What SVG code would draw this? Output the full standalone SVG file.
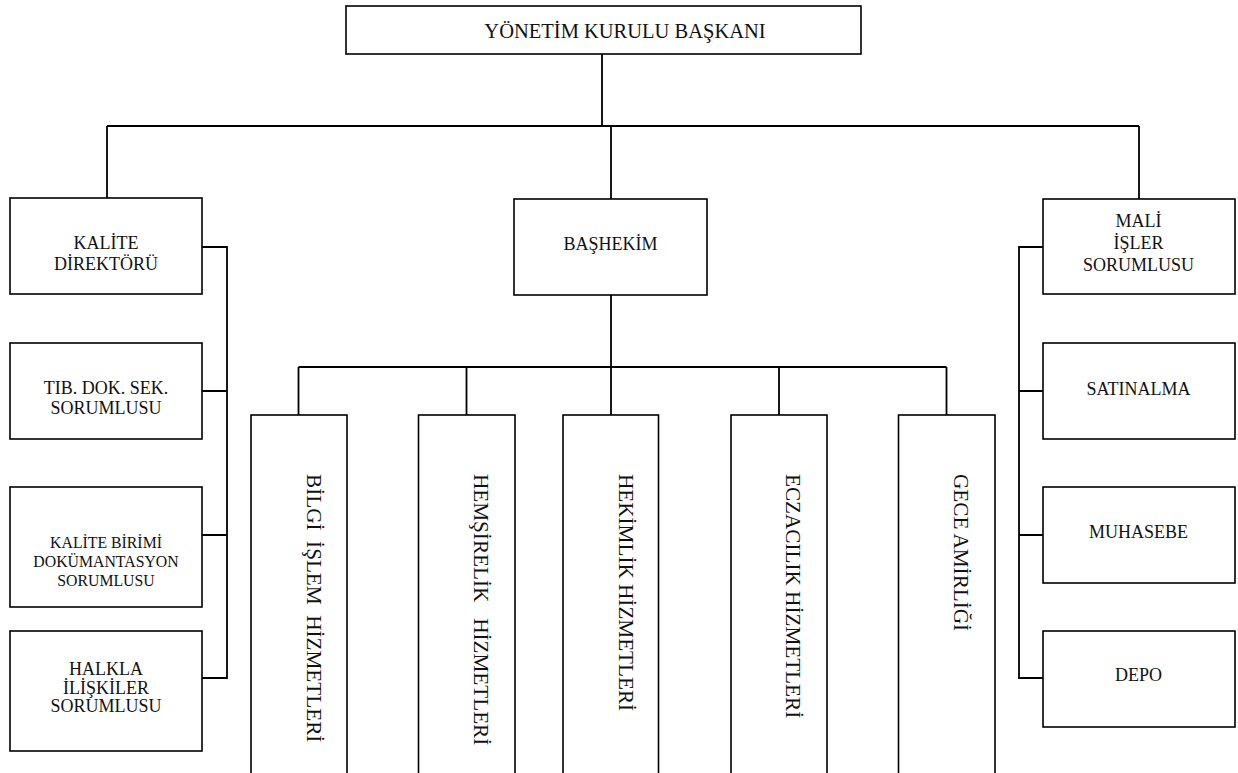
<svg xmlns="http://www.w3.org/2000/svg" width="1238" height="773" viewBox="0 0 1238 773">
  <style>
    .box { fill: #ffffff; stroke: #000000; stroke-width: 1.6; }
    .wire { fill: none; stroke: #000000; stroke-width: 1.8; }
    text { font-family: "Liberation Serif", "Times New Roman", serif; fill: #111111; }
    .lbl { font-size: 18px; text-anchor: middle; }
    .sm { font-size: 15.8px; text-anchor: middle; }
    .vt { font-size: 21.2px; white-space: pre; }
  </style>
  <rect width="1238" height="773" fill="#ffffff"/>

  <!-- connectors -->
  <g id="connectors" class="wire">
    <!-- top level -->
    <path d="M602 54 V126 M107 126 H1139 M107 126 V198 M611 126 V199 M1139 126 V199"/>
    <!-- quality branch (left) -->
    <path d="M202 247 H227 V678 H202 M202 391 H227 M202 535 H227"/>
    <!-- finance branch (right) -->
    <path d="M1043 247 H1019 V678 H1043 M1019 391 H1043 M1019 535 H1043"/>
    <!-- chief physician branch -->
    <path d="M611 295 V367 M298.5 367 H946.5 M298.5 367 V415 M466.5 367 V415 M611 367 V415 M779 367 V415 M946.5 367 V415"/>
  </g>

  <g id="n-baskan">
    <rect class="box" x="346" y="6" width="515" height="48"/>
    <text x="625" y="38" style="font-size:20.5px;text-anchor:middle">YÖNETİM KURULU BAŞKANI</text>
  </g>

  <g id="n-kalite-direktoru">
    <rect class="box" x="10" y="198" width="192" height="96"/>
    <text class="lbl" x="106" y="249">KALİTE</text>
    <text class="lbl" x="106" y="270">DİREKTÖRÜ</text>
  </g>

  <g id="n-tib-dok">
    <rect class="box" x="10" y="343" width="192" height="96"/>
    <text class="lbl" x="106" y="393.5">TIB. DOK. SEK.</text>
    <text class="lbl" x="106" y="414">SORUMLUSU</text>
  </g>

  <g id="n-kalite-birimi">
    <rect class="box" x="10" y="487" width="192" height="120"/>
    <text class="sm" x="106" y="548">KALİTE BİRİMİ</text>
    <text class="sm" x="106" y="567">DOKÜMANTASYON</text>
    <text class="sm" x="106" y="585.5">SORUMLUSU</text>
  </g>

  <g id="n-halkla">
    <rect class="box" x="10" y="631" width="192" height="120"/>
    <text class="lbl" x="106" y="675">HALKLA</text>
    <text class="lbl" x="106" y="693.5">İLİŞKİLER</text>
    <text class="lbl" x="106" y="712">SORUMLUSU</text>
  </g>

  <g id="n-bashekim">
    <rect class="box" x="514" y="199" width="193" height="96"/>
    <text class="lbl" x="610.5" y="249.5">BAŞHEKİM</text>
  </g>

  <g id="n-mali">
    <rect class="box" x="1043" y="199" width="192" height="95"/>
    <text class="lbl" x="1138.5" y="227">MALİ</text>
    <text class="lbl" x="1138.5" y="248.5">İŞLER</text>
    <text class="lbl" x="1138.5" y="270.5">SORUMLUSU</text>
  </g>

  <g id="n-satinalma">
    <rect class="box" x="1043" y="343" width="192" height="96"/>
    <text class="lbl" x="1138.5" y="394.5">SATINALMA</text>
  </g>

  <g id="n-muhasebe">
    <rect class="box" x="1043" y="487" width="192" height="96"/>
    <text class="lbl" x="1138.5" y="537.5">MUHASEBE</text>
  </g>

  <g id="n-depo">
    <rect class="box" x="1043" y="631" width="192" height="96"/>
    <text class="lbl" x="1138.5" y="681">DEPO</text>
  </g>

  <!-- tall service columns, running off the bottom edge -->
  <g id="n-bilgi-islem">
    <rect class="box" x="251" y="415" width="96" height="380"/>
    <text class="vt" xml:space="preserve" transform="translate(306.5 474) rotate(90)">BİLGİ  İŞLEM  HİZMETLERİ</text>
  </g>

  <g id="n-hemsirelik">
    <rect class="box" x="418.5" y="415" width="96.5" height="380"/>
    <text class="vt" xml:space="preserve" transform="translate(473.5 474) rotate(90)">HEMŞİRELİK   HİZMETLERİ</text>
  </g>

  <g id="n-hekimlik">
    <rect class="box" x="563" y="415" width="95.5" height="380"/>
    <text class="vt" transform="translate(618.5 474) rotate(90)">HEKİMLİK HİZMETLERİ</text>
  </g>

  <g id="n-eczacilik">
    <rect class="box" x="731" y="415" width="96" height="380"/>
    <text class="vt" transform="translate(786 474) rotate(90)">ECZACILIK HİZMETLERİ</text>
  </g>

  <g id="n-gece">
    <rect class="box" x="898.5" y="415" width="96.5" height="380"/>
    <text class="vt" transform="translate(954 474) rotate(90)">GECE AMİRLİĞİ</text>
  </g>
</svg>
